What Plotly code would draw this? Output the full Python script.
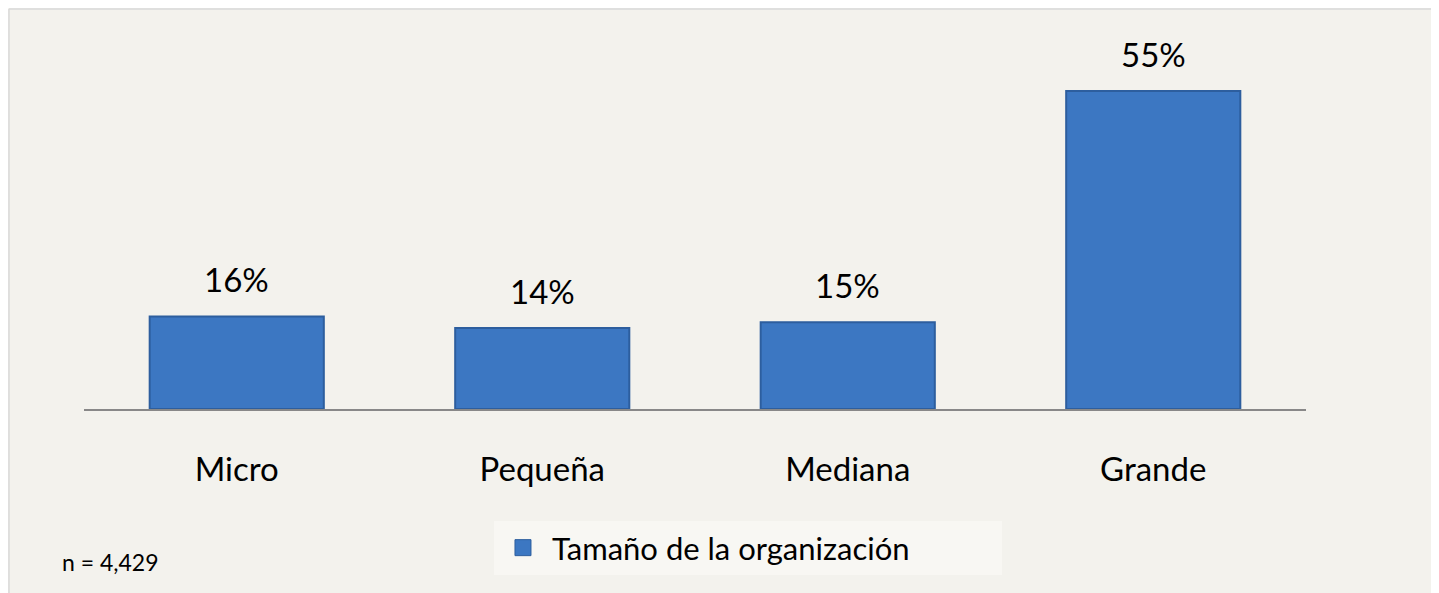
import plotly.graph_objects as go

categories = ["Micro", "Pequeña", "Mediana", "Grande"]
values = [16, 14, 15, 55]
labels = ["16%", "14%", "15%", "55%"]
series_name = "Tamaño de la organización"
note = "n = 4,429"

FONT = "Lato"
BAR = "#3C77C2"
BAR_LINE = "#2D5E9E"
BG = "#F3F2ED"
FRAME = "#D9D9D9"

fig = go.Figure()
fig.add_trace(go.Bar(
    x=categories, y=values, marker=dict(color=BAR, line=dict(color=BAR_LINE, width=2)),
    showlegend=False, hoverinfo="skip"))
# legend entry (larger square symbol)
fig.add_trace(go.Scatter(
    x=[None], y=[None], mode="markers", name=series_name,
    marker=dict(symbol="square", size=20, color=BAR, line=dict(color=BAR_LINE, width=1))))

for c, v, t in zip(categories, values, labels):
    fig.add_annotation(x=c, y=v, text=t, showarrow=False, yanchor="bottom",
                       yshift=15, font=dict(family=FONT, size=33, color="#000"))

fig.add_annotation(xref="paper", yref="paper", x=-0.0196, y=-0.4146, text=note,
                   showarrow=False, xanchor="left", yanchor="middle",
                   font=dict(family=FONT, size=23, color="#000"))

# chart area frame: only top and left edges visible
fig.add_shape(type="line", xref="paper", yref="paper", x0=-0.0614, x1=1.2,
              y0=1.084, y1=1.084, line=dict(color=FRAME, width=1.5), layer="below")
fig.add_shape(type="line", xref="paper", yref="paper", x0=-0.0614, x1=-0.0614,
              y0=-0.6, y1=1.084, line=dict(color=FRAME, width=1.5), layer="below")

fig.update_layout(
    width=1440, height=586,
    margin=dict(l=76, r=142, t=32, b=185),
    paper_bgcolor=BG, plot_bgcolor="rgba(0,0,0,0)",
    bargap=0.43,
    font=dict(family=FONT, color="#000"),
    showlegend=True,
    legend=dict(orientation="h", x=0.3355, xanchor="left", y=-0.3767, yanchor="middle",
                bgcolor="#F8F7F3", font=dict(family=FONT, size=31), itemwidth=48,
                entrywidth=445, itemsizing="trace"),
    xaxis=dict(showline=True, linecolor="#888888", linewidth=2, ticks="",
               tickfont=dict(family=FONT, size=33), ticklabelstandoff=30,
               showgrid=False, zeroline=False, fixedrange=True),
    yaxis=dict(range=[0, 63.8], visible=False, showgrid=False, zeroline=False),
)

fig.write_html("out.html", config={"displayModeBar": False},
               post_script="document.documentElement.style.overflow='hidden';document.body.style.overflow='hidden';")
